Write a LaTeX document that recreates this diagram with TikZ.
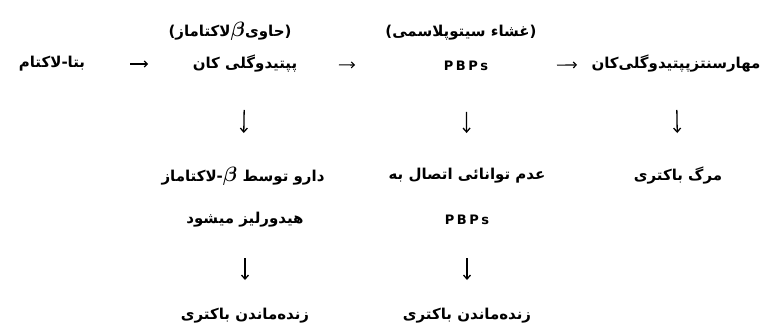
\documentclass[tikz,border=0pt]{standalone}
\usepackage{fontspec}
\usetikzlibrary{arrows.meta}

\newfontfamily\farsi[Script=Arabic]{DejaVu Sans}
\newfontfamily\latin{DejaVu Sans}
\TeXXeTstate=1
\newcommand{\bigbeta}{{\fontsize{21}{21}\selectfont\boldmath$\beta$}}
\newcommand{\pbps}{P\kern2.5pt B\kern2.5pt P\kern2.5pt s}

\tikzset{
  fa/.style={font=\farsi\bfseries\fontsize{15}{18}\selectfont, inner sep=1pt},
  pbp/.style={font=\latin\bfseries\fontsize{13}{15}\selectfont, inner sep=1pt},
  rarr/.style={line width=1.1pt, -{Straight Barb[length=3pt,width=6pt]}},
  darr/.style={line width=1.3pt, -{Straight Barb[length=4pt,width=7pt]}}
}

\begin{document}
\begin{tikzpicture}[x=1pt,y=-1pt]

    \useasboundingbox (0,0) rectangle (770,331);

    % top row
    \node[fa] (bl) at (52,64) {\beginR بتا-لاکتام\endR};
    \node[fa] (pg) at (245,64) {\beginR پپتیدوگلی کان\endR};
    \node[pbp] (pb) at (466,66) {\pbps};
    \node[fa] (mh) at (676,64) {\beginR مهارسنتزپپتیدوگلی‌کان\endR};

    \node[fa] (h1) at (230,31) {\beginR (حاوی\bigbeta لاکتاماز)\endR};
    \node[fa] (h2) at (461,33) {\beginR (غشاء سیتوپلاسمی)\endR};

    % middle rows
    \node[fa] (dl) at (243,176) {\beginR دارو توسط \bigbeta-لاکتاماز\endR};
    \node[fa] (hy) at (245,220) {\beginR هیدورلیز میشود\endR};
    \node[fa] (ad) at (467,176) {\beginR عدم توانائی اتصال به\endR};
    \node[pbp] (pb2) at (467,220) {\pbps};
    \node[fa] (mb) at (678,176) {\beginR مرگ باکتری\endR};

    % bottom row
    \node[fa] (zn1) at (245,316) {\beginR زنده‌ماندن باکتری\endR};
    \node[fa] (zn2) at (467,316) {\beginR زنده‌ماندن باکتری\endR};

    \draw[rarr, shorten <=78pt, shorten >=97pt] (bl.center) -- (pg.center);
    \draw[rarr, shorten <=94pt, shorten >=111pt] (pg.center) -- (pb.center);
    \draw[rarr, shorten <=91pt, shorten >=99pt] (pb.center) -- (mh.center);

    \draw[darr, shorten <=46pt, shorten >=43pt] (pg.center) -- (dl.center);
    \draw[darr, shorten <=46pt, shorten >=43pt] (pb.center) -- (ad.center);
    \draw[darr, shorten <=46pt, shorten >=43pt] (mh.center) -- (mb.center);

	\draw[darr, shorten <=38pt, shorten >=36pt] (hy.center) -- (zn1.center);
	\draw[darr, shorten <=38pt, shorten >=36pt] (pb2.center) -- (zn2.center);

\end{tikzpicture}
\end{document}
